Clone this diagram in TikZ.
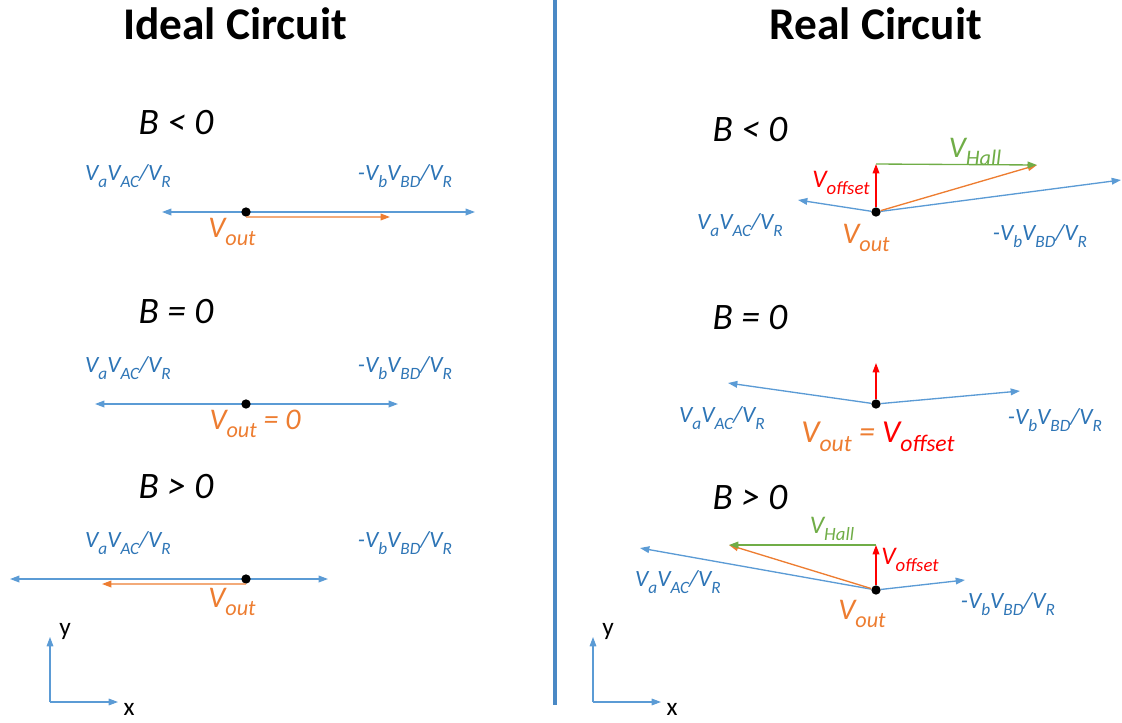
\documentclass[tikz,border=0pt]{standalone}
\usepackage{fontspec}
\setmainfont{Carlito}
\usetikzlibrary{arrows.meta}
\definecolor{lineblue}{HTML}{5B9BD5}
\definecolor{textblue}{HTML}{2E75B6}
\definecolor{divblue}{HTML}{4A89C5}
\definecolor{vorange}{HTML}{ED7D31}
\definecolor{vgreen}{HTML}{70AD47}
\definecolor{vred}{HTML}{FF0000}
\newcommand{\sbx}[1]{\raisebox{-0.28em}{\scalebox{0.74}{#1}}}
\newcommand{\VaLab}{V\sbx{a}V\sbx{AC}/V\sbx{R}}
\newcommand{\VbLab}{-V\sbx{b}V\sbx{BD}/V\sbx{R}}

\begin{document}
\begin{tikzpicture}[x=0.75pt,y=-0.75pt,
  ttl/.style={font=\fontsize{34}{36}\selectfont\bfseries,inner sep=0pt},
  bs/.style={font=\fontsize{28}{30}\selectfont\itshape,inner sep=0pt},
  lab/.style={font=\fontsize{17.5}{19}\selectfont\itshape,text=textblue,inner sep=0pt},
  big/.style={font=\fontsize{22.5}{24}\selectfont\itshape,inner sep=0pt},
  mid/.style={font=\fontsize{19}{21}\selectfont\itshape,inner sep=0pt},
  ax/.style={font=\fontsize{19}{21}\selectfont,inner sep=0pt},
  dot/.style={circle,fill=black,inner sep=0pt,minimum size=7pt},
  vec/.style={-{Triangle[length=7pt,width=5pt]},line width=1pt},
  dbl/.style={{Triangle[length=7pt,width=5pt]}-{Triangle[length=7pt,width=5pt]},line width=1pt,lineblue}]
  \useasboundingbox (0,0) rectangle (1122,722);
  % titles and divider
  \node[ttl] (T1) at (235,24) {Ideal Circuit};
  \node[ttl] (T2) at (876,24) {Real Circuit};
  \coordinate (top) at (555,0);
  \coordinate (bot) at (555,705);
  \draw[divblue,line width=2.4pt] (top) -- (bot);
  % ideal circuit
  \foreach \r/\sg/\yb/\yl/\yd/\xa/\xb in {1/</123/176/212/162/475,2/=/312/368/404/95/398,3/>/487/543/579/10/328} {
    \node[bs] (B\r) at (176,\yb) {B \sg{} 0};
    \node[lab] (La\r) at (128,\yl) {\VaLab};
    \node[lab] (Lb\r) at (405,\yl) {\VbLab};
    \coordinate (a\r) at (\xa,\yd);
    \coordinate (b\r) at (\xb,\yd);
    \draw[dbl] (a\r) -- (b\r);
    \node[dot] (d\r) at (246,\yd) {};
  }
  \coordinate (o1) at (390,217);
  \coordinate (o3) at (102,584);
  \draw[vec,vorange] (d1.south) -- (o1);
  \draw[vec,vorange] (d3.south) -- (o3);
  \node[big,vorange] (Vo1) at (232,232) {V\sbx{out}};
  \node[big,vorange] (Vo2) at (255,424) {V\sbx{out} = 0};
  \node[big,vorange] (Vo3) at (232,602) {V\sbx{out}};
  % real circuit, B < 0
  \node[bs] (B4) at (750,130) {B < 0};
  \node[dot] (d4) at (876,212) {};
  \coordinate (r4) at (876,164);
  \coordinate (g4) at (1037,165);
  \coordinate (p4) at (1121,180);
  \coordinate (m4) at (798,200);
  \draw[vec,lineblue] (d4) -- (p4);
  \draw[vec,lineblue] (d4) -- (m4);
  \draw[vec,vorange] (d4) -- (g4);
  \draw[vec,vred] (d4) -- (r4);
  \draw[vec,vgreen] (r4) -- (g4);
  \node[mid,vred] (Vf4) at (841,183) {V\sbx{offset}};
  \node[big,vgreen] (Vh4) at (975,152) {V\sbx{Hall}};
  \node[lab] (La4) at (740,225) {\VaLab};
  \node[lab] (Lb4) at (1040,236) {\VbLab};
  \node[big,vorange] (Vo4) at (866,238) {V\sbx{out}};
  % B = 0
  \node[bs] (B5) at (750,318) {B = 0};
  \node[dot] (d5) at (876,404) {};
  \coordinate (r5) at (876,363);
  \coordinate (p5) at (1020,391);
  \coordinate (m5) at (728,383);
  \draw[vec,lineblue] (d5) -- (p5);
  \draw[vec,lineblue] (d5) -- (m5);
  \draw[vec,vred] (d5) -- (r5);
  \node[lab] (La5) at (722,418) {\VaLab};
  \node[lab] (Lb5) at (1055,420) {\VbLab};
  \node[big,font=\fontsize{24}{26}\selectfont\itshape] (Vo5) at (878,437) {\textcolor{vorange}{V\sbx{out} =} \textcolor{vred}{V\sbx{offset}}};
  % B > 0
  \node[bs] (B6) at (750,498) {B > 0};
  \node[dot] (d6) at (876,590) {};
  \coordinate (r6) at (876,545);
  \coordinate (g6) at (729,545);
  \coordinate (p6) at (965,580);
  \coordinate (m6) at (640,548);
  \draw[vec,lineblue] (d6) -- (p6);
  \draw[vec,lineblue] (d6) -- (m6);
  \draw[vec,vorange] (d6) -- (g6);
  \draw[vec,vred] (d6) -- (r6);
  \draw[vec,vgreen] (r6) -- (g6);
  \node[mid,vgreen] (Vh6) at (832,529) {V\sbx{Hall}};
  \node[mid,vred] (Vf6) at (910,560) {V\sbx{offset}};
  \node[lab] (La6) at (678,582) {\VaLab};
  \node[lab] (Lb6) at (1008,604) {\VbLab};
  \node[big,vorange] (Vo6) at (862,614) {V\sbx{out}};
  % axes
  \foreach \k/\xo in {1/50,2/593} {
    \coordinate (O\k) at (\xo,702);
    \coordinate (Y\k) at (\xo,637);
    \coordinate (X\k) at (\xo+68,702);
    \draw[vec,lineblue,line width=0.8pt] (O\k) -- (Y\k);
    \draw[vec,lineblue,line width=0.8pt] (O\k) -- (X\k);
    \node[ax] (ylab\k) at (\xo+15,631) {y};
    \node[ax] (xlab\k) at (\xo+79,709) {x};
  }
\end{tikzpicture}
\end{document}
